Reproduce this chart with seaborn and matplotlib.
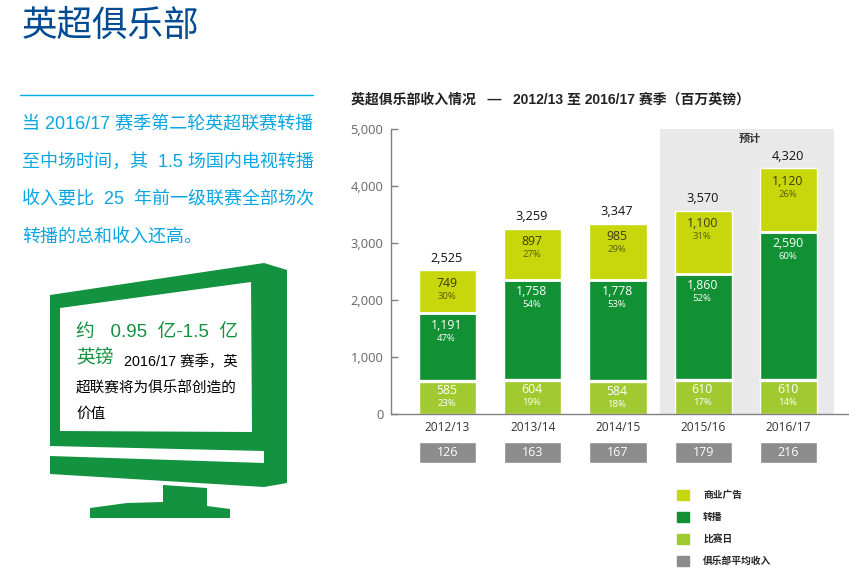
import matplotlib
matplotlib.use('Agg')
import matplotlib.pyplot as plt
from matplotlib.patches import Polygon, Patch
from matplotlib.transforms import blended_transform_factory
import numpy as np
import seaborn as sns

seasons = ['2012/13', '2013/14', '2014/15', '2015/16', '2016/17']
matchday = [585, 604, 584, 610, 610]
broadcast = [1191, 1758, 1778, 1860, 2590]
commercial = [749, 897, 985, 1100, 1120]
totals = [2525, 3259, 3347, 3570, 4320]
matchday_pct = ['23%', '19%', '18%', '17%', '14%']
broadcast_pct = ['47%', '54%', '53%', '52%', '60%']
commercial_pct = ['30%', '27%', '29%', '31%', '26%']
club_avg = [126, 163, 167, 179, 216]

COMMERCIAL = '#c8d60c'
BROADCAST = '#119034'
MATCHDAY = '#a0ca30'
AVG = '#8c8c8c'
SCREEN_GREEN = '#13923f'

sns.set_theme(style='white')
plt.rcParams['font.family'] = ['Liberation Sans', 'Noto Sans CJK SC']
NUM_FONT = ['Open Sans', 'Noto Sans CJK SC']

fig = plt.figure(figsize=(8.49, 5.70), dpi=100)

# page layer in pixel coordinates, for the text and monitor on the left
page = fig.add_axes([0, 0, 1, 1])
page.set_xlim(0, 849)
page.set_ylim(570, 0)
page.axis('off')

page.text(22, 26, '英超俱乐部', fontsize=25.6, color='#004b91', va='center')
page.plot([20, 313], [94.5, 94.5], color='#00aeef', lw=1)

para = ['当 2016/17 赛季第二轮英超联赛转播', '至中场时间，其  1.5 场国内电视转播',
        '收入要比  25  年前一级联赛全部场次', '转播的总和收入还高。']
for y, line in zip([125, 162, 200, 237], para):
    page.text(22, y, line, fontsize=13, color='#0aa5e2', va='center')

# monitor
outer = [(50, 295), (264, 263), (287, 270), (287, 463), (264, 463), (264, 451), (50, 446)]
strip = [(50, 456), (264, 463), (287, 463), (287, 483), (264, 487), (50, 474)]
stand = [(163, 485), (207, 488), (207, 506), (230, 509), (230, 518), (90, 518), (90, 508), (127, 503), (163, 502)]
screen = [(60, 308), (251, 282), (252, 432), (60, 431)]
for pts, col in [(outer, SCREEN_GREEN), (strip, SCREEN_GREEN), (stand, SCREEN_GREEN), (screen, 'white')]:
    page.add_patch(Polygon(pts, closed=True, facecolor=col, edgecolor='none'))

page.text(76, 333, '约   0.95  亿-1.5  亿', fontsize=13.5, color=SCREEN_GREEN, va='center')
page.text(76, 358, '英镑', fontsize=13.5, color=SCREEN_GREEN, va='center')
page.text(124, 362, '2016/17 赛季，英', fontsize=10.4, color='black', va='center')
page.text(76, 388, '超联赛将为俱乐部创造的', fontsize=10.5, color='black', va='center')
page.text(76, 414, '价值', fontsize=10.5, color='black', va='center')

page.text(351, 100, '英超俱乐部收入情况   —   2012/13 至 2016/17 赛季（百万英镑）',
          fontsize=10, fontweight='bold', color='#222222', va='center')

# chart
ax = fig.add_axes([390.5 / 849, 1 - 414.3 / 570, 458.5 / 849, 285 / 570])
ax.patch.set_alpha(0)

bar_w = 0.67
ax.axvspan(2.49, 4.53, color='#e9e9e9', lw=0, zorder=0)

bottom_mid = np.array(matchday)
bottom_top = bottom_mid + np.array(broadcast)
sns.barplot(x=seasons, y=matchday, color=MATCHDAY, width=bar_w, saturation=1, ax=ax, zorder=2)
sns.barplot(x=seasons, y=broadcast, bottom=bottom_mid, color=BROADCAST, width=bar_w, saturation=1, ax=ax, zorder=2)
sns.barplot(x=seasons, y=commercial, bottom=bottom_top, color=COMMERCIAL, width=bar_w, saturation=1, ax=ax, zorder=2)

xs = np.arange(len(seasons))
ax.hlines(bottom_mid, xs - bar_w / 2 - 0.01, xs + bar_w / 2 + 0.01, color='white', lw=2.4, zorder=3)
ax.hlines(bottom_top, xs - bar_w / 2 - 0.01, xs + bar_w / 2 + 0.01, color='white', lw=2, zorder=3)

ax.set_xlim(-0.669, 4.71)
ax.set_ylim(0, 5000)
ax.set_yticks([0, 1000, 2000, 3000, 4000, 5000])
ax.set_yticklabels(['0', '1,000', '2,000', '3,000', '4,000', '5,000'], fontfamily=NUM_FONT)
ax.set_xlabel('')
ax.set_ylabel('')
ax.tick_params(axis='y', direction='in', length=5, width=1, color='#808080', labelcolor='#666666',
               labelsize=9.3, left=True, pad=5)
ax.tick_params(axis='x', length=0, labelcolor='#333333', labelsize=8.6, pad=5)
for lab in ax.get_xticklabels():
    lab.set_fontfamily(NUM_FONT)
sns.despine(ax=ax)
for side in ['left', 'bottom']:
    ax.spines[side].set_color('#808080')
    ax.spines[side].set_linewidth(1)


def seg_labels(tops, values, pcts, col, pct_col, off1, off2):
    for x, top, v, p in zip(xs, tops, values, pcts):
        ax.annotate(f'{v:,}', (x, top), xytext=(-1, -off1), textcoords='offset pixels', ha='center', va='center',
                    fontsize=8.8, color=col, family=NUM_FONT, zorder=4)
        ax.annotate(p, (x, top), xytext=(-1, -off2), textcoords='offset pixels', ha='center', va='center',
                    fontsize=6.8, color=pct_col, family=NUM_FONT, zorder=4)


seg_labels(bottom_mid, matchday, matchday_pct, 'white', 'white', 10, 23)
seg_labels(bottom_top, broadcast, broadcast_pct, 'white', 'white', 12, 25)
seg_labels(bottom_top + np.array(commercial), commercial, commercial_pct, '#3a3a10', '#55600a', 13, 26)

for x, t in zip(xs, totals):
    ax.annotate(f'{t:,}', (x, t), xytext=(-1, 12), textcoords='offset pixels', ha='center', va='center',
                fontsize=9.2, color='#111111', family=NUM_FONT)

ax.text(3.55, 4830, '预计', fontsize=8, fontweight='bold', color='#333333', ha='center', va='center', zorder=4)

# club average row under the axis
trans = blended_transform_factory(ax.transData, ax.transAxes)
for x, v in zip(xs, club_avg):
    ax.bar(x, 0.074, bottom=-0.171, width=bar_w, color=AVG, transform=trans, clip_on=False, zorder=2)
    ax.text(x, -0.134, str(v), transform=trans, ha='center', va='center', fontsize=9, color='white',
            family=NUM_FONT, zorder=4)
ax.set_ylim(0, 5000)

handles = [Patch(color=COMMERCIAL, label='商业广告'), Patch(color=BROADCAST, label='转播'),
           Patch(color=MATCHDAY, label='比赛日'), Patch(color=AVG, label='俱乐部平均收入')]
fig.legend(handles=handles, loc='upper left', bbox_to_anchor=(677 / 849, 1 - 490 / 570), frameon=False,
           prop={'size': 7, 'weight': 'bold'}, borderpad=0, borderaxespad=0, handlelength=1.24, handleheight=1.24,
           labelspacing=1.18, handletextpad=1.44)

fig.savefig('out.png', dpi=100)
